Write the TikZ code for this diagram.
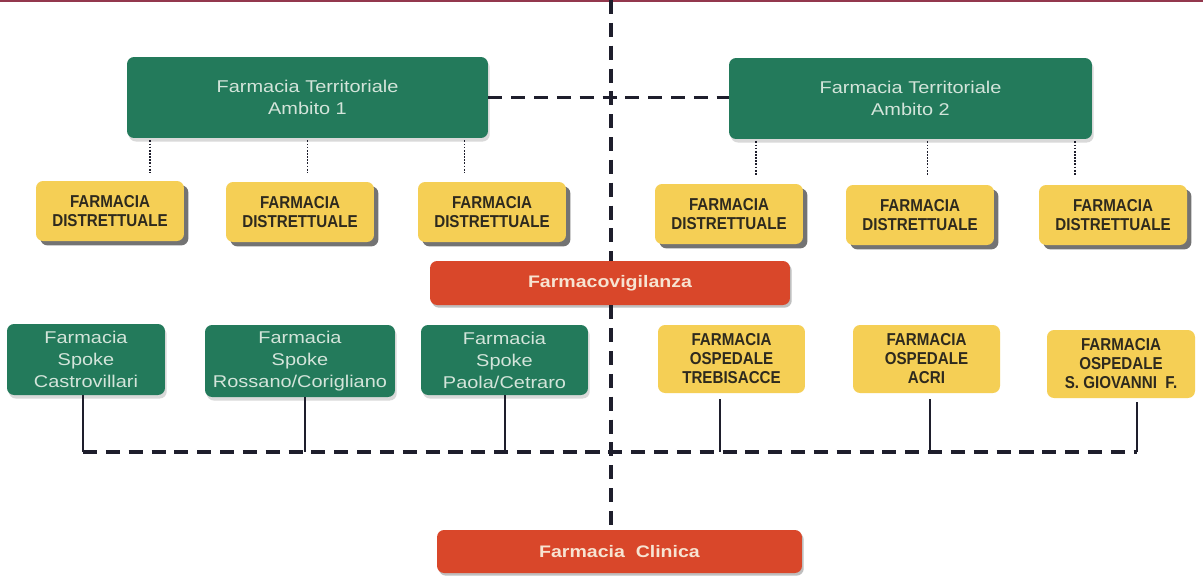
\documentclass[tikz,border=0pt]{standalone}
\usepackage{fontspec}
\setmainfont{Liberation Sans}
\newfontfamily\verdefont[FakeStretch=1.17]{Liberation Sans}
\newfontfamily\gialfont[FakeStretch=0.88]{Liberation Sans}
\usepackage{tikz}
\usetikzlibrary{shadows, calc}
\definecolor{verde}{HTML}{237A5B}
\definecolor{verdetxt}{HTML}{D3E4DA}
\definecolor{giallo}{HTML}{F5CF55}
\definecolor{gialtxt}{HTML}{2E2A1E}
\definecolor{rosso}{HTML}{D9472A}
\definecolor{rossotxt}{HTML}{F7E4D2}
\definecolor{bordo}{HTML}{93384D}
\definecolor{linea}{HTML}{1E1E2C}

\begin{document}
\begin{tikzpicture}[x=0.02cm, y=-0.02cm,
  verdebox/.style={fill=verde, text=verdetxt, rounded corners=4pt, align=center, inner sep=0pt,
    font=\verdefont\fontsize{9.7}{12.5}\selectfont,
    drop shadow={shadow xshift=1pt, shadow yshift=-2pt, fill=black, opacity=0.15}},
  gialbox/.style={fill=giallo, text=gialtxt, rounded corners=4pt, align=center, inner sep=0pt,
    font=\gialfont\bfseries\fontsize{9.8}{10.8}\selectfont,
    minimum width=2.96cm, minimum height=1.2cm},
  ombra/.style={drop shadow={shadow xshift=2.5pt, shadow yshift=-2.5pt, fill=black, opacity=0.55}},
  rossobox/.style={fill=rosso, text=rossotxt, rounded corners=4pt, inner sep=0pt,
    font=\verdefont\bfseries\fontsize{9.5}{12}\selectfont,
    drop shadow={shadow xshift=1pt, shadow yshift=-1.5pt, fill=black, opacity=0.25}},
  tratteggio/.style={draw=linea, line width=2pt, dash pattern=on 8pt off 5pt},
  puntini/.style={draw=linea, line width=1pt, dash pattern=on 1pt off 0.8pt},
  filo/.style={draw=linea, line width=0.9pt}]
\useasboundingbox (0,0) rectangle (1203,579);
\fill[white] (0,0) rectangle (1203,579);
\draw[bordo, line width=1.2pt] (0,1) -- (1203,1);

\node[verdebox, minimum width=7.22cm, minimum height=1.62cm] (ter1) at (307.5,97.5) {Farmacia Territoriale\\Ambito 1};
\node[verdebox, minimum width=7.26cm, minimum height=1.62cm] (ter2) at (910.5,98.5) {Farmacia Territoriale\\Ambito 2};

\node[gialbox, ombra] (d1) at (110,211) {FARMACIA\\DISTRETTUALE};
\node[gialbox, ombra] (d2) at (300,212) {FARMACIA\\DISTRETTUALE};
\node[gialbox, ombra] (d3) at (492,212) {FARMACIA\\DISTRETTUALE};
\node[gialbox, ombra] (d4) at (729,214) {FARMACIA\\DISTRETTUALE};
\node[gialbox, ombra] (d5) at (920,215) {FARMACIA\\DISTRETTUALE};
\node[gialbox, ombra] (d6) at (1113,215) {FARMACIA\\DISTRETTUALE};

\node[rossobox, minimum width=7.2cm, minimum height=0.88cm] (vig) at (610,283) {Farmacovigilanza};

\node[verdebox, minimum width=3.16cm, minimum height=1.42cm] (sp1) at (86,359.5) {Farmacia\\Spoke\\Castrovillari};
\node[verdebox, minimum width=3.8cm, minimum height=1.44cm] (sp2) at (300,361) {Farmacia\\Spoke\\Rossano/Corigliano};
\node[verdebox, minimum width=3.34cm, minimum height=1.4cm] (sp3) at (504.5,360) {Farmacia\\Spoke\\Paola/Cetraro};

\node[gialbox, minimum width=2.94cm, minimum height=1.36cm] (os1) at (731.5,359) {FARMACIA\\OSPEDALE\\TREBISACCE};
\node[gialbox, minimum width=2.94cm, minimum height=1.36cm] (os2) at (926.5,359) {FARMACIA\\OSPEDALE\\ACRI};
\node[gialbox, minimum width=2.96cm, minimum height=1.36cm] (os3) at (1121,364) {FARMACIA\\OSPEDALE\\S. GIOVANNI\ \ F.};

\node[rossobox, minimum width=7.3cm, minimum height=0.86cm] (clin) at (619.5,551.5) {Farmacia\ \ Clinica};

\coordinate (top) at (611,0);
\draw[tratteggio] (top) -- (top |- vig.north);
\draw[tratteggio] (vig.south -| top) -- (top |- clin.north);
\draw[tratteggio] (ter1.east) -- (ter1.east -| ter2.west);

\foreach \dx in {-157.5,0,157} \draw[puntini] ($(ter1.south)+(\dx,2)$) -- ++(0,32);
\foreach \dx in {-154.5,17,164.5} \draw[puntini] ($(ter2.south)+(\dx,2)$) -- ++(0,34);

\coordinate (b1) at (83,452);
\coordinate (b2) at (305,452);
\coordinate (b3) at (505,452);
\coordinate (b4) at (720,452);
\coordinate (b5) at (930,452);
\coordinate (b6) at (1137,452);
\draw[filo] (b1 |- sp1.south) -- (b1);
\draw[filo] (b2 |- sp2.south) -- (b2);
\draw[filo] (b3 |- sp3.south) -- (b3);
\draw[filo] (b4 |- os1.south) ++(0,6) -- (b4);
\draw[filo] (b5 |- os2.south) ++(0,6) -- (b5);
\draw[filo] (b6 |- os3.south) ++(0,4) -- (b6);
\draw[tratteggio] (b1) -- (b6);
\end{tikzpicture}
\end{document}
